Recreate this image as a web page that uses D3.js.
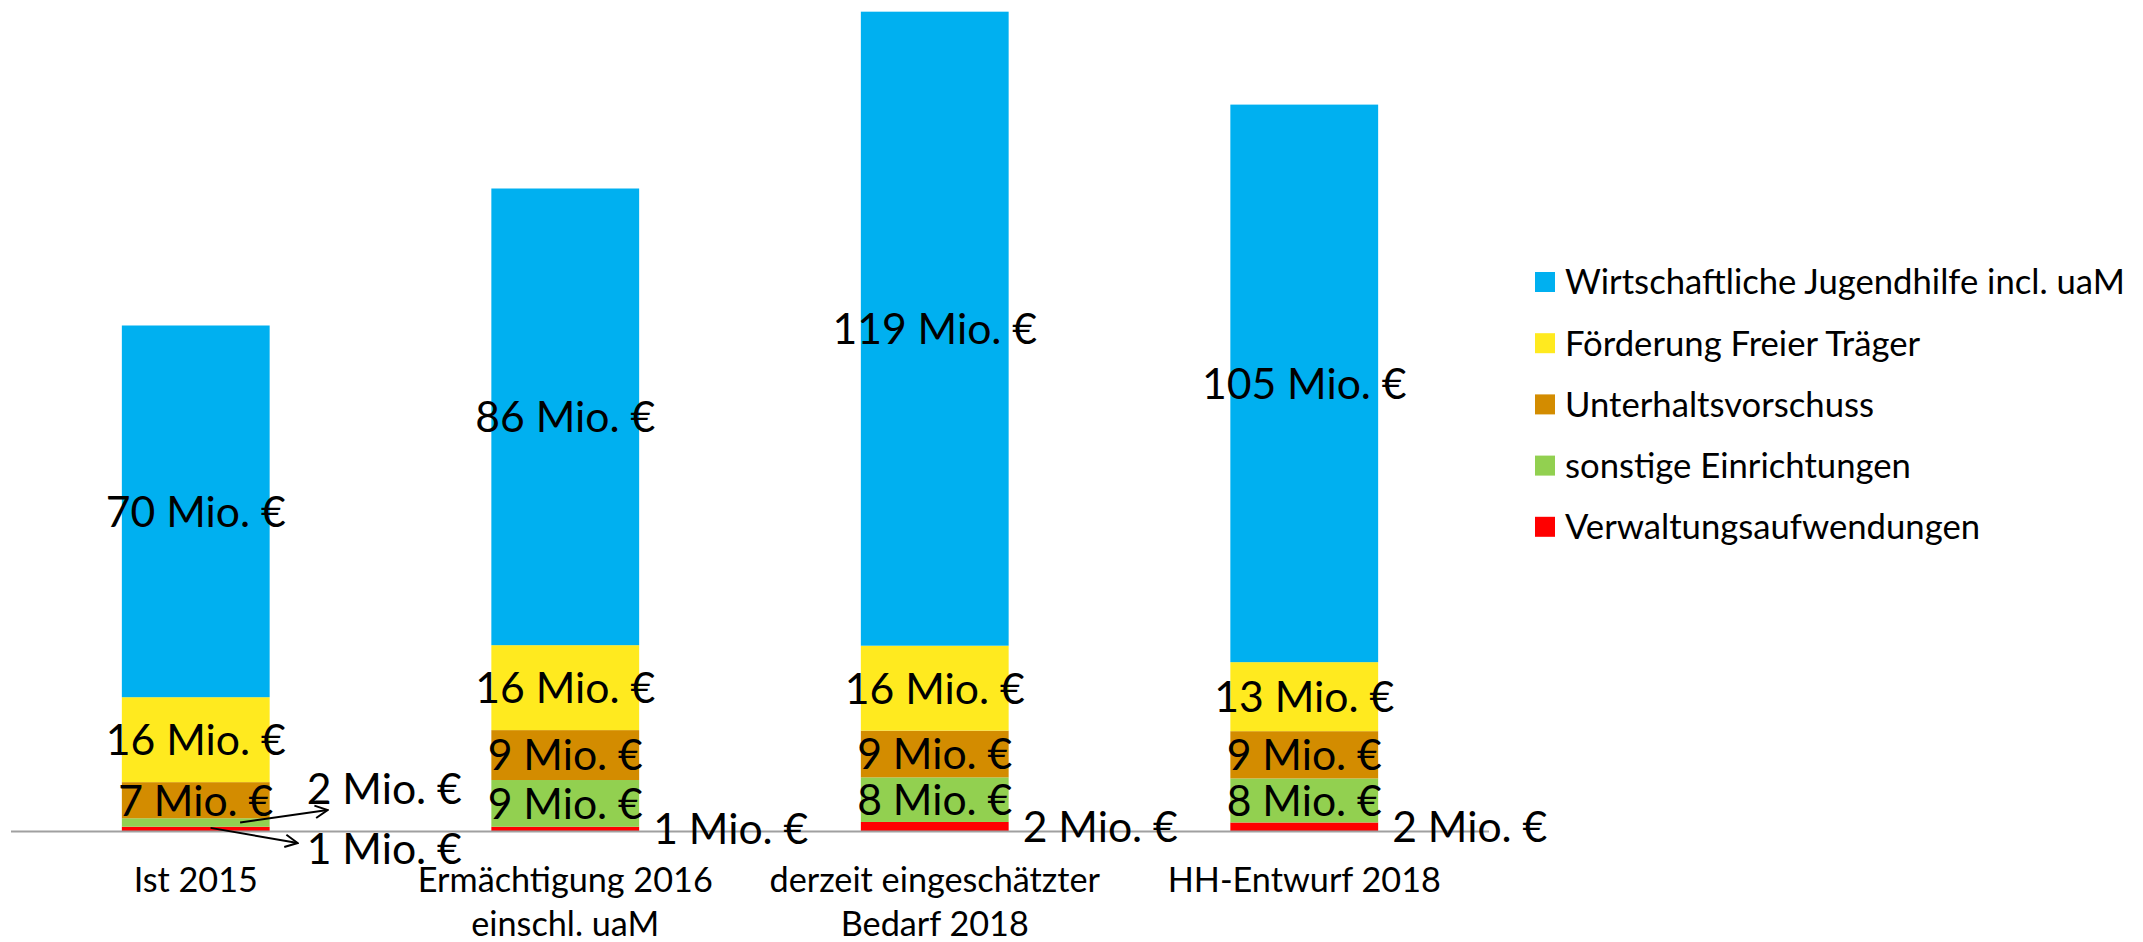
<!DOCTYPE html>
<html>
<head>
<meta charset="utf-8">
<script src="https://cdn.jsdelivr.net/npm/d3@7"></script>
<style>
  html, body { margin: 0; padding: 0; background: #fff; }
  svg { display: block; }
</style>
</head>
<body>
<svg id="chart" width="2143" height="942"></svg>
<script>
// ---- data ----
const categories = [
  ["Ist 2015"],
  ["Ermächtigung 2016", "einschl. uaM"],
  ["derzeit eingeschätzter", "Bedarf 2018"],
  ["HH-Entwurf 2018"]
];
// stack order: bottom -> top
const seriesNames = [
  "Verwaltungsaufwendungen",
  "sonstige Einrichtungen",
  "Unterhaltsvorschuss",
  "Förderung Freier Träger",
  "Wirtschaftliche Jugendhilfe incl. uaM"
];
const verwaltung = [0.8, 0.8, 1.7, 1.6];
const sonstige   = [1.6, 8.8, 8.4, 8.3];
const unterhalt  = [6.8, 9.4, 8.8, 8.9];
const foerderung = [16, 16, 16, 13];
const wjh        = [70, 86, 119.4, 105];
const seriesColors = ["#FF0000", "#92D050", "#D38C00", "#FFEA1F", "#00B0F0"];
const labelUnit = " Mio. €";

// ---- layout ----
const W = 2143, H = 942;
const FONT = "Lato, 'Open Sans', sans-serif";
const plot = { left: 11, right: 1489, top: 0, bottom: 831 };

const svg = d3.select("#chart");
svg.append("rect").attr("width", W).attr("height", H).attr("fill", "#fff");

function fitSize(sample, targetWidth) {
  const t = svg.append("text").attr("font-family", FONT).attr("font-size", 100).text(sample);
  const w = t.node().getComputedTextLength();
  t.remove();
  return 100 * targetWidth / w;
}
const dataFs = fitSize("16 Mio. €", 180);
const legendFs = fitSize("Wirtschaftliche Jugendhilfe incl. uaM", 560);
const catFs = fitSize("Ermächtigung 2016", 295);

const seriesValues = [verwaltung, sonstige, unterhalt, foerderung, wjh];
const rows = categories.map((c, i) => {
  const r = { key: i };
  seriesNames.forEach((s, j) => r[s] = seriesValues[j][i]);
  return r;
});
const stack = d3.stack().keys(seriesNames)(rows);

const x = d3.scaleBand().domain(d3.range(categories.length))
  .range([plot.left, plot.right]).paddingInner(0.6).paddingOuter(0.3);
const y = d3.scaleLinear().domain([0, 156.5]).range([plot.bottom, plot.top]);
const bw = x.bandwidth();

// bars
const g = svg.append("g");
stack.forEach((layer, j) => {
  g.selectAll(null).data(layer).enter().append("rect")
    .attr("x", (d, i) => x(i))
    .attr("width", bw)
    .attr("y", d => y(d[1]))
    .attr("height", d => y(d[0]) - y(d[1]))
    .attr("fill", seriesColors[j]);
});

// axis line
const axisG = svg.append("g").attr("transform", `translate(0,${plot.bottom + 0.5})`);
axisG.call(d3.axisBottom(x).tickSize(0).tickFormat(""));
axisG.select(".domain").attr("stroke", "#A0A0A0").attr("stroke-width", 2)
  .attr("d", `M${plot.left},0H${plot.right}`);

// category labels
categories.forEach((lines, i) => {
  const t = svg.append("text")
    .attr("font-family", FONT).attr("font-size", catFs).attr("fill", "#000")
    .attr("text-anchor", "middle");
  lines.forEach((ln, k) => {
    t.append("tspan").attr("x", x(i) + bw / 2).attr("y", 880 + k * 44).attr("dy", "0.36em").text(ln);
  });
});

// arrow marker
svg.append("defs").append("marker")
  .attr("id", "arr").attr("viewBox", "0 0 12 12").attr("refX", 11).attr("refY", 6)
  .attr("markerWidth", 15).attr("markerHeight", 15).attr("markerUnits", "userSpaceOnUse")
  .attr("orient", "auto")
  .append("path").attr("d", "M1,1 L11,6 L1,11").attr("fill", "none")
  .attr("stroke", "#000").attr("stroke-width", 1.6);

// data labels
const fmt = v => Math.round(v) + labelUnit;
const labG = svg.append("g").attr("font-family", FONT).attr("font-size", dataFs).attr("fill", "#000");
categories.forEach((c, i) => {
  const small = [];
  stack.forEach((layer, j) => {
    const d = layer[i];
    const h = y(d[0]) - y(d[1]);
    if (h < 20) { small.push({ j, d }); return; }
    labG.append("text").attr("x", x(i) + bw / 2).attr("y", (y(d[0]) + y(d[1])) / 2)
      .attr("dy", "0.36em").attr("text-anchor", "middle").text(fmt(d.data[seriesNames[j]]));
  });
  const xr = x(i) + bw;
  if (small.length === 1) {
    const d = small[0].d;
    labG.append("text").attr("x", xr + 14).attr("y", (y(d[0]) + y(d[1])) / 2)
      .attr("dy", "0.36em").text(fmt(d.data[seriesNames[small[0].j]]));
  } else if (small.length === 2) {
    // upper segment (green) -> label above baseline, lower (red) -> below
    const up = small[1], lo = small[0];
    const upY = plot.bottom - 42, loY = plot.bottom + 18;
    labG.append("text").attr("x", xr + 37).attr("y", upY).attr("dy", "0.36em")
      .text(fmt(up.d.data[seriesNames[up.j]]));
    labG.append("text").attr("x", xr + 37).attr("y", loY).attr("dy", "0.36em")
      .text(fmt(lo.d.data[seriesNames[lo.j]]));
    svg.append("line")
      .attr("x1", x(i) + bw * 0.8).attr("y1", (y(up.d[0]) + y(up.d[1])) / 2)
      .attr("x2", xr + 58).attr("y2", upY + 21)
      .attr("stroke", "#000").attr("stroke-width", 2).attr("marker-end", "url(#arr)");
    svg.append("line")
      .attr("x1", x(i) + bw * 0.6).attr("y1", (y(lo.d[0]) + y(lo.d[1])) / 2 - 1)
      .attr("x2", xr + 28).attr("y2", loY - 6)
      .attr("stroke", "#000").attr("stroke-width", 2).attr("marker-end", "url(#arr)");
  }
});

// legend (top -> bottom in reverse stack order)
const legG = svg.append("g").attr("font-family", FONT).attr("font-size", legendFs).attr("fill", "#000");
seriesNames.slice().reverse().forEach((s, k) => {
  const cy = 282 + k * 61.2;
  const j = seriesNames.indexOf(s);
  legG.append("rect").attr("x", 1535).attr("y", cy - 10).attr("width", 20).attr("height", 20)
    .attr("fill", seriesColors[j]);
  legG.append("text").attr("x", 1565).attr("y", cy).attr("dy", "0.36em").text(s);
});
</script>
</body>
</html>
